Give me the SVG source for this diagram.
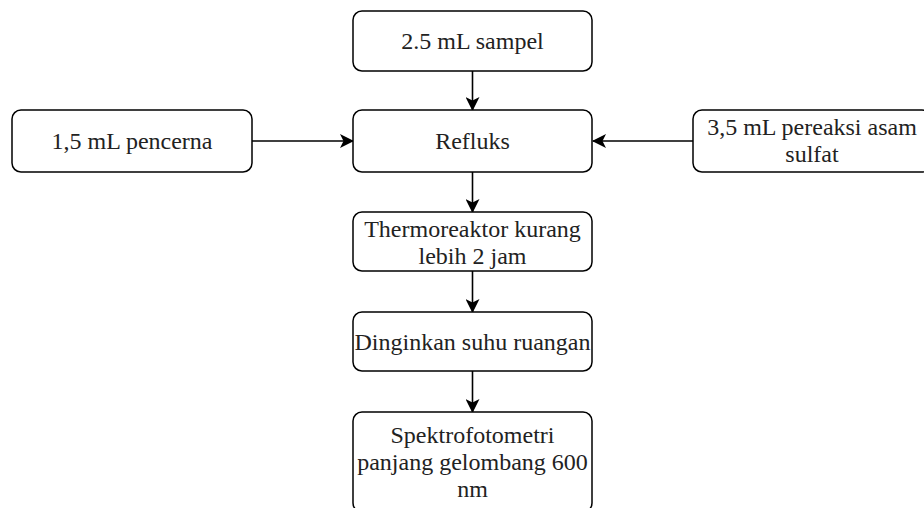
<svg xmlns="http://www.w3.org/2000/svg" width="924" height="508" viewBox="0 0 924 508">
<style>
.box{fill:#fff;stroke:#000;stroke-width:1.5}
.t{font-size:24px;fill:#222;text-anchor:middle}
.c{stroke:#000;stroke-width:1.6;fill:none}
</style>
<defs>
<marker id="ah" viewBox="0 0 14 14" refX="13" refY="7" markerWidth="14" markerHeight="14" markerUnits="userSpaceOnUse" orient="auto">
<path d="M0,0 L14,7 L0,14 L3.5,7 Z" fill="#000"/>
</marker>
</defs>
<rect width="924" height="508" fill="#fff"/>
<g id="connectors">
<line class="c" x1="472.5" y1="71" x2="472.5" y2="110" marker-end="url(#ah)"/>
<line class="c" x1="252" y1="141" x2="353" y2="141" marker-end="url(#ah)"/>
<line class="c" x1="693" y1="141" x2="593" y2="141" marker-end="url(#ah)"/>
<line class="c" x1="472.5" y1="172" x2="472.5" y2="212" marker-end="url(#ah)"/>
<line class="c" x1="472.5" y1="271" x2="472.5" y2="312" marker-end="url(#ah)"/>
<line class="c" x1="472.5" y1="371" x2="472.5" y2="412" marker-end="url(#ah)"/>
</g>
<g font-family="Liberation Serif, Times New Roman, DejaVu Serif, serif">
<g id="sampel">
<rect class="box" x="353" y="11" width="239" height="60" rx="9"/>
<text class="t" x="472.5" y="49">2.5 mL sampel</text>
</g>
<g id="pencerna">
<rect class="box" x="12" y="110" width="240" height="62" rx="9"/>
<text class="t" x="132" y="149">1,5 mL pencerna</text>
</g>
<g id="refluks">
<rect class="box" x="353" y="110" width="239" height="62" rx="9"/>
<text class="t" x="472.5" y="149">Refluks</text>
</g>
<g id="pereaksi">
<rect class="box" x="693" y="110" width="238" height="62" rx="9"/>
<text class="t" x="812" y="135">3,5 mL pereaksi asam</text>
<text class="t" x="812" y="162">sulfat</text>
</g>
<g id="thermoreaktor">
<rect class="box" x="353" y="212" width="239" height="59" rx="9"/>
<text class="t" x="472.5" y="237">Thermoreaktor kurang</text>
<text class="t" x="472.5" y="264">lebih 2 jam</text>
</g>
<g id="dinginkan">
<rect class="box" x="353" y="312" width="239" height="59" rx="9"/>
<text class="t" x="472.5" y="350">Dinginkan suhu ruangan</text>
</g>
<g id="spektro">
<rect class="box" x="353" y="412" width="239" height="100" rx="9"/>
<text class="t" x="472.5" y="443">Spektrofotometri</text>
<text class="t" x="472.5" y="470">panjang gelombang 600</text>
<text class="t" x="472.5" y="497">nm</text>
</g>
</g>
</svg>
